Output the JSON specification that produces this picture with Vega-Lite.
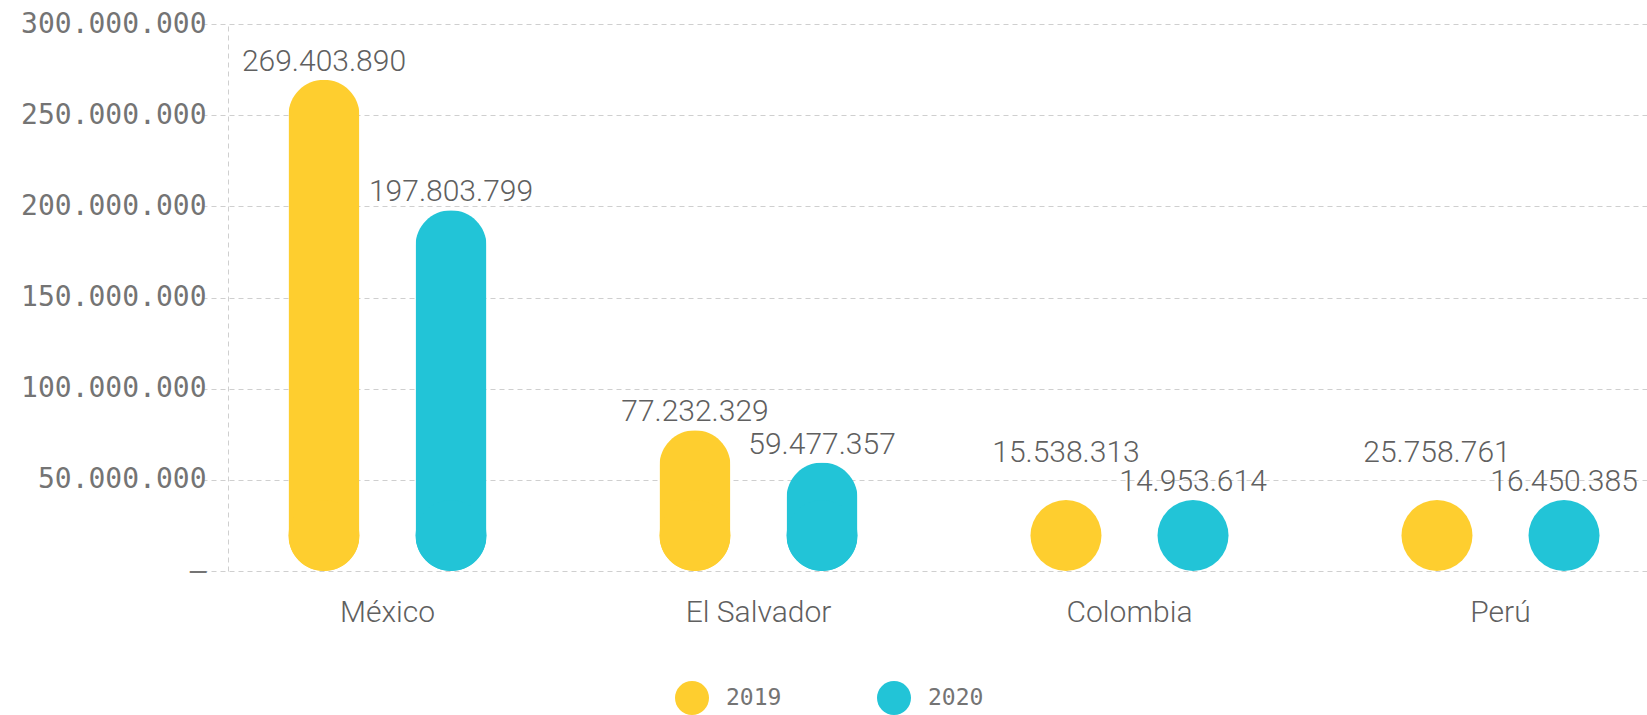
{
  "$schema": "https://vega.github.io/schema/vega-lite/v6.json",
  "autosize": "none",
  "width": 1419,
  "height": 547,
  "padding": {"left": 228, "top": 24, "right": 0, "bottom": 144},
  "config": {
    "locale": {"number": {"decimal": ",", "thousands": ".", "grouping": [3], "currency": ["", ""]}},
    "view": {"stroke": null},
    "font": "Roboto",
    "text": {"font": "Roboto"},
    "axisY": {"title": null, "tickCount": 6, "labelLimit": 400,
              "labelExpr": "datum.value == 0 ? '–' : replace(format(datum.value, ',.0f'), /,/g, '.')",
              "ticks": false, "labelPadding": 22, "domain": true, "domainDash": [5, 4], "domainColor": "#cfcfcf", "domainWidth": 1,
              "grid": true, "gridDash": [5, 4], "gridColor": "#cfcfcf", "gridWidth": 1,
              "labelFont": "DejaVu Sans Mono", "labelFontSize": 28, "labelColor": "#747474"}
  },
  "data": {
    "values": [
      {"pais": "México", "year": "2019", "value": 269403890},
      {"pais": "México", "year": "2020", "value": 197803799},
      {"pais": "El Salvador", "year": "2019", "value": 77232329},
      {"pais": "El Salvador", "year": "2020", "value": 59477357},
      {"pais": "Colombia", "year": "2019", "value": 15538313},
      {"pais": "Colombia", "year": "2020", "value": 14953614},
      {"pais": "Perú", "year": "2019", "value": 25758761},
      {"pais": "Perú", "year": "2020", "value": 16450385}
    ]
  },
  "encoding": {
    "x": {
      "field": "pais", "type": "nominal", "sort": ["México", "El Salvador", "Colombia", "Perú"],
      "scale": {"range": [-26, 1458], "paddingInner": 0, "paddingOuter": 0},
      "axis": {"title": null, "labelAngle": 0, "domain": false, "ticks": false, "labelPadding": 26,
               "labelFont": "Roboto", "labelFontWeight": 300, "labelFontSize": 30, "labelColor": "#606060"}
    },
    "xOffset": {"field": "year", "type": "nominal", "scale": {"paddingInner": 0.44, "paddingOuter": 0.68}},
    "color": {
      "field": "year", "type": "nominal",
      "scale": {"domain": ["2019", "2020"], "range": ["#FECE2F", "#22C4D7"]},
      "legend": {"title": null, "orient": "none", "legendX": 447, "legendY": 657, "direction": "horizontal",
                 "symbolType": "circle", "symbolSize": 1156, "symbolStrokeWidth": 0, "symbolOpacity": 1,
                 "labelFont": "DejaVu Sans Mono", "labelFontSize": 23, "labelColor": "#747474",
                 "labelOffset": 17, "columnPadding": 95}
    }
  },
  "layer": [
    {
      "transform": [{"filter": "datum.value >= 39000000"}],
      "mark": {"type": "bar", "width": 71, "cornerRadius": 35.5},
      "encoding": {
        "y": {"field": "value", "type": "quantitative", "title": null,
              "scale": {"domain": [0, 300000000], "nice": false}}
      }
    },
    {
      "mark": {"type": "point", "shape": "circle", "filled": true, "opacity": 1, "size": 5041, "yOffset": -35.5},
      "encoding": {
        "y": {"datum": 0, "type": "quantitative", "title": null}
      }
    },
    {
      "transform": [{"filter": "datum.value >= 39000000"}],
      "mark": {"type": "text", "baseline": "alphabetic", "dy": -9, "fontSize": 30, "fontWeight": 300, "color": "#606060"},
      "encoding": {
        "y": {"field": "value", "type": "quantitative", "title": null},
        "text": {"field": "value", "type": "quantitative", "format": ","},
        "color": {"value": "#606060"}
      }
    },
    {
      "transform": [{"filter": "datum.value < 39000000 && datum.year == '2019'"}],
      "mark": {"type": "text", "baseline": "alphabetic", "dy": -9, "fontSize": 30, "fontWeight": 300, "color": "#606060"},
      "encoding": {
        "y": {"datum": 55000000, "type": "quantitative", "title": null},
        "text": {"field": "value", "type": "quantitative", "format": ","},
        "color": {"value": "#606060"}
      }
    },
    {
      "transform": [{"filter": "datum.value < 39000000 && datum.year == '2020'"}],
      "mark": {"type": "text", "baseline": "alphabetic", "dy": -9, "fontSize": 30, "fontWeight": 300, "color": "#606060"},
      "encoding": {
        "y": {"datum": 39000000, "type": "quantitative", "title": null},
        "text": {"field": "value", "type": "quantitative", "format": ","},
        "color": {"value": "#606060"}
      }
    }
  ]
}
